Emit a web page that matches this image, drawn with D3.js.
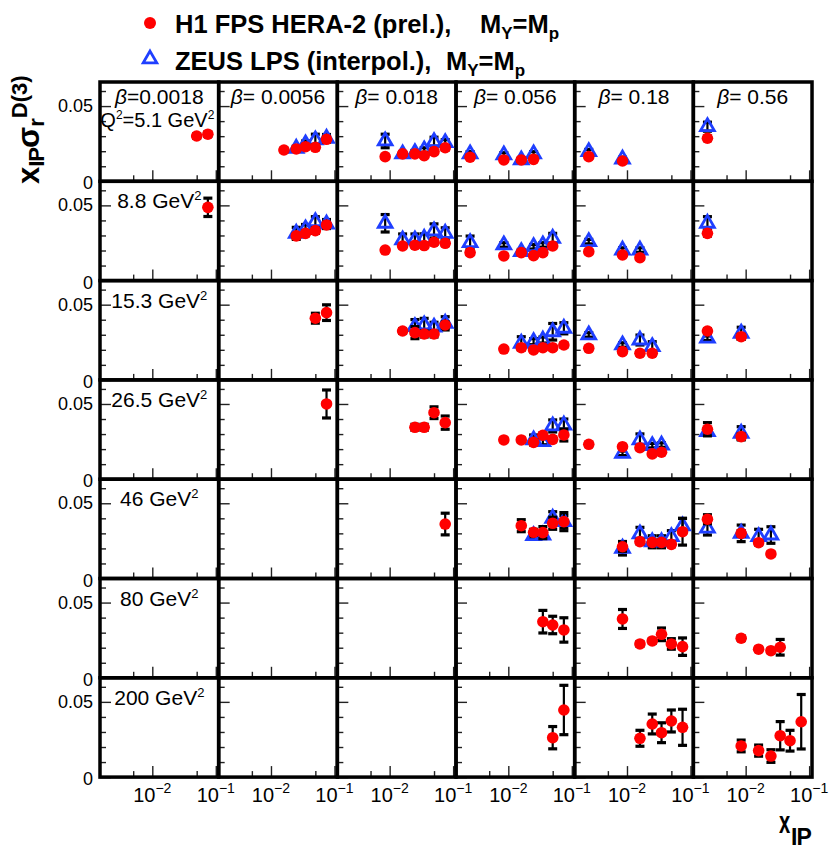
<!DOCTYPE html>
<html>
<head>
<meta charset="utf-8">
<script src="https://cdn.jsdelivr.net/npm/d3@7"></script>
<style>
  body { margin: 0; background: #ffffff; }
  text { font-family: "Liberation Sans", Arial, Helvetica, sans-serif; fill: #000; }
</style>
</head>
<body>
<svg id="chart" width="838" height="850"></svg>
<script>
// ---- bins and axis ticks ----
const betaLabels = ["0.0018", "0.0056", "0.018", "0.056", "0.18", "0.56"];
const q2Labels = ["5.1", "8.8", "15.3", "26.5", "46", "80", "200"];
const xTickMajor = [0.01, 0.1];
const xTickMinor = [0.005, 0.05];
const xTickExp = ["-2", "-1"];
const yTickMajor = [0, 0.05];
const yTickMinor = [0.01, 0.02, 0.03, 0.04, 0.06];
const yTickText = ["0", "0.05"];

// ---- H1 FPS HERA-2 (prel.): [beta index, x_IP, x_IP*sigma_r^D(3), error] per Q^2 bin ----
const h1Q2_5_1 = [
  [0, 0.05, 0.0301, 0.0015], [0, 0.075, 0.0313, 0.0015],
  [1, 0.016, 0.0208, 0.0012], [1, 0.025, 0.0215, 0.0012], [1, 0.035, 0.0230, 0.0013], [1, 0.05, 0.0226, 0.0015], [1, 0.075, 0.0279, 0.0018],
  [2, 0.0085, 0.0164, 0.001], [2, 0.016, 0.0182, 0.001], [2, 0.025, 0.0182, 0.001], [2, 0.035, 0.0170, 0.001], [2, 0.05, 0.0197, 0.0012], [2, 0.075, 0.0223, 0.0015],
  [3, 0.0025, 0.0160, 0.001], [3, 0.0085, 0.0142, 0.001], [3, 0.016, 0.0142, 0.001], [3, 0.025, 0.0146, 0.001],
  [4, 0.0025, 0.0164, 0.001], [4, 0.0085, 0.0135, 0.001],
  [5, 0.0025, 0.0286, 0.0015]
];
const h1Q2_8_8 = [
  [0, 0.075, 0.0487, 0.0061],
  [1, 0.025, 0.0297, 0.0015], [1, 0.035, 0.0314, 0.0015], [1, 0.05, 0.0332, 0.0018], [1, 0.075, 0.0370, 0.002],
  [2, 0.0085, 0.0203, 0.001], [2, 0.016, 0.0230, 0.0012], [2, 0.025, 0.0235, 0.0012], [2, 0.035, 0.0233, 0.0012], [2, 0.05, 0.0255, 0.0014], [2, 0.075, 0.0248, 0.0015],
  [3, 0.0025, 0.0186, 0.001], [3, 0.0085, 0.0164, 0.001], [3, 0.016, 0.0186, 0.001], [3, 0.025, 0.0166, 0.001], [3, 0.035, 0.0186, 0.001], [3, 0.05, 0.0230, 0.0012],
  [4, 0.0025, 0.0192, 0.001], [4, 0.0085, 0.0170, 0.001], [4, 0.016, 0.0152, 0.001],
  [5, 0.0025, 0.0314, 0.0018]
];
const h1Q2_15_3 = [
  [1, 0.05, 0.0410, 0.0033], [1, 0.075, 0.0447, 0.0052],
  [2, 0.016, 0.0325, 0.0015], [2, 0.025, 0.0314, 0.0040], [2, 0.035, 0.0305, 0.002], [2, 0.05, 0.0305, 0.002], [2, 0.075, 0.0365, 0.002],
  [3, 0.0085, 0.0205, 0.001], [3, 0.016, 0.0214, 0.0012], [3, 0.025, 0.0199, 0.0012], [3, 0.035, 0.0214, 0.0012], [3, 0.05, 0.0214, 0.0012], [3, 0.075, 0.0232, 0.0014],
  [4, 0.0025, 0.0210, 0.0012], [4, 0.0085, 0.0188, 0.0012], [4, 0.016, 0.0177, 0.0012], [4, 0.025, 0.0177, 0.0012],
  [5, 0.0025, 0.0325, 0.0015], [5, 0.0085, 0.0287, 0.0015]
];
const h1Q2_26_5 = [
  [1, 0.075, 0.0500, 0.0093],
  [2, 0.025, 0.0345, 0.002], [2, 0.035, 0.0345, 0.002], [2, 0.05, 0.0442, 0.0039], [2, 0.075, 0.0376, 0.0044],
  [3, 0.0085, 0.0261, 0.0012], [3, 0.016, 0.0261, 0.0012], [3, 0.025, 0.0245, 0.0015], [3, 0.035, 0.0292, 0.0015], [3, 0.05, 0.0265, 0.0015], [3, 0.075, 0.0294, 0.0040],
  [4, 0.0025, 0.0232, 0.0012], [4, 0.0085, 0.0216, 0.0012], [4, 0.016, 0.0209, 0.0012], [4, 0.025, 0.0168, 0.0012], [4, 0.035, 0.0179, 0.0012],
  [5, 0.0025, 0.0332, 0.0044], [5, 0.0085, 0.0283, 0.0018]
];
const h1Q2_46 = [
  [2, 0.075, 0.0362, 0.0072],
  [3, 0.016, 0.0351, 0.0040], [3, 0.025, 0.0307, 0.0020], [3, 0.035, 0.0305, 0.0040], [3, 0.05, 0.0367, 0.0040], [3, 0.075, 0.0378, 0.0060],
  [4, 0.0085, 0.0211, 0.0030], [4, 0.016, 0.0245, 0.0015], [4, 0.025, 0.0240, 0.0015], [4, 0.035, 0.0240, 0.0015], [4, 0.05, 0.0227, 0.0015], [4, 0.075, 0.0311, 0.0089],
  [5, 0.0025, 0.0394, 0.003], [5, 0.0085, 0.0300, 0.0018], [5, 0.016, 0.0238, 0.0015], [5, 0.025, 0.0163, 0.0012]
];
const h1Q2_80 = [
  [3, 0.035, 0.0373, 0.0075], [3, 0.05, 0.0351, 0.0058], [3, 0.075, 0.0318, 0.0081],
  [4, 0.0085, 0.0391, 0.0063], [4, 0.016, 0.0225, 0.0015], [4, 0.025, 0.0245, 0.0015], [4, 0.035, 0.0289, 0.0042], [4, 0.05, 0.0225, 0.0035], [4, 0.075, 0.0207, 0.0058],
  [5, 0.0085, 0.0263, 0.0015], [5, 0.016, 0.0190, 0.0012], [5, 0.025, 0.0180, 0.0012], [5, 0.035, 0.0203, 0.0052]
];
const h1Q2_200 = [
  [3, 0.05, 0.0262, 0.0074], [3, 0.075, 0.0446, 0.0164],
  [4, 0.016, 0.0258, 0.0053], [4, 0.025, 0.0353, 0.0066], [4, 0.035, 0.0295, 0.0066], [4, 0.05, 0.0373, 0.0073], [4, 0.075, 0.0331, 0.0120],
  [5, 0.0085, 0.0207, 0.0039], [5, 0.016, 0.0176, 0.0037], [5, 0.025, 0.0140, 0.0042], [5, 0.035, 0.0275, 0.0094], [5, 0.05, 0.0242, 0.0069], [5, 0.075, 0.0368, 0.0181]
];

// ---- ZEUS LPS (interpol.): [beta index, x_IP, x_IP*sigma_r^D(3), error] per Q^2 bin ----
const zeusQ2_5_1 = [
  [1, 0.025, 0.0219, 0.0015], [1, 0.035, 0.0248, 0.002], [1, 0.05, 0.0275, 0.0038], [1, 0.075, 0.0286, 0.0025],
  [2, 0.0085, 0.0268, 0.0045], [2, 0.016, 0.0182, 0.0015], [2, 0.025, 0.0190, 0.0015], [2, 0.035, 0.0208, 0.0015], [2, 0.05, 0.0263, 0.003], [2, 0.075, 0.0257, 0.002],
  [3, 0.0025, 0.0182, 0.0015], [3, 0.0085, 0.0175, 0.0015], [3, 0.016, 0.0142, 0.0012], [3, 0.025, 0.0182, 0.0015],
  [4, 0.0025, 0.0197, 0.0015], [4, 0.0085, 0.0148, 0.0012],
  [5, 0.0025, 0.0363, 0.003]
];
const zeusQ2_8_8 = [
  [1, 0.025, 0.0314, 0.004], [1, 0.035, 0.0343, 0.003], [1, 0.05, 0.0392, 0.0033], [1, 0.075, 0.0376, 0.003],
  [2, 0.0085, 0.0381, 0.0058], [2, 0.016, 0.0270, 0.004], [2, 0.025, 0.0270, 0.004], [2, 0.035, 0.0281, 0.003], [2, 0.05, 0.0330, 0.0047], [2, 0.075, 0.0314, 0.0037],
  [3, 0.0025, 0.0252, 0.0044], [3, 0.0085, 0.0237, 0.0015], [3, 0.016, 0.0192, 0.0015], [3, 0.025, 0.0225, 0.0015], [3, 0.035, 0.0237, 0.0015], [3, 0.05, 0.0281, 0.0033],
  [4, 0.0025, 0.0259, 0.0015], [4, 0.0085, 0.0203, 0.0015], [4, 0.016, 0.0203, 0.0015],
  [5, 0.0025, 0.0381, 0.0044]
];
const zeusQ2_15_3 = [
  [2, 0.025, 0.0354, 0.0047], [2, 0.035, 0.0365, 0.0044], [2, 0.05, 0.0350, 0.0033], [2, 0.075, 0.0376, 0.0044],
  [3, 0.016, 0.0243, 0.0044], [3, 0.025, 0.0254, 0.002], [3, 0.035, 0.0265, 0.002], [3, 0.05, 0.0320, 0.0055], [3, 0.075, 0.0343, 0.0037],
  [4, 0.0025, 0.0299, 0.0015], [4, 0.0085, 0.0232, 0.0015], [4, 0.016, 0.0265, 0.0033], [4, 0.025, 0.0221, 0.0033],
  [5, 0.0025, 0.0277, 0.0015], [5, 0.0085, 0.0310, 0.004]
];
const zeusQ2_26_5 = [
  [3, 0.025, 0.0261, 0.0033], [3, 0.035, 0.0249, 0.002], [3, 0.05, 0.0354, 0.004], [3, 0.075, 0.0360, 0.004],
  [4, 0.0085, 0.0172, 0.0015], [4, 0.016, 0.0261, 0.004], [4, 0.025, 0.0223, 0.0015], [4, 0.035, 0.0227, 0.0015],
  [5, 0.0025, 0.0316, 0.0015], [5, 0.0085, 0.0305, 0.0044]
];
const zeusQ2_46 = [
  [3, 0.025, 0.0285, 0.002], [3, 0.035, 0.0289, 0.002], [3, 0.05, 0.0400, 0.0044], [3, 0.075, 0.0378, 0.004],
  [4, 0.0085, 0.0201, 0.0045], [4, 0.016, 0.0296, 0.0044], [4, 0.025, 0.0244, 0.004], [4, 0.035, 0.0244, 0.004], [4, 0.05, 0.0278, 0.004], [4, 0.075, 0.0349, 0.005],
  [5, 0.0025, 0.0334, 0.0045], [5, 0.0085, 0.0300, 0.0055], [5, 0.016, 0.0278, 0.0049], [5, 0.025, 0.0289, 0.0055]
];
const zeusQ2_80 = [];
const zeusQ2_200 = [];

const h1Rows = [h1Q2_5_1, h1Q2_8_8, h1Q2_15_3, h1Q2_26_5, h1Q2_46, h1Q2_80, h1Q2_200];
const zeusRows = [zeusQ2_5_1, zeusQ2_8_8, zeusQ2_15_3, zeusQ2_26_5, zeusQ2_46, zeusQ2_80, zeusQ2_200];

// ---- layout ----
const svg = d3.select("#chart");
const gridLeft = 100, gridTop = 82, cellW = 118.67, cellH = 99.3;
const xDomain = [0.0015, 0.111], yDomain = [0, 0.066];
const red = "#ff0000", blue = "#1f3fff";

const xScaleFor = c => {
  const L = gridLeft + c * cellW;
  return d3.scaleLog().domain(xDomain).range([L, L + cellW]);
};
const yScaleFor = r => {
  const T = gridTop + r * cellH;
  return d3.scaleLinear().domain(yDomain).range([T + cellH, T]);
};

const tickLayer = svg.append("g");
const frameLayer = svg.append("g");
const dataLayer = svg.append("g");
const textLayer = svg.append("g");

function styleAxis(sel) {
  sel.select(".domain").remove();
  sel.selectAll(".tick line").attr("stroke", "#222").attr("stroke-width", 1.4);
  sel.selectAll(".tick text").remove();
}

for (let r = 0; r < q2Labels.length; r++) {
  const y = yScaleFor(r);
  for (let c = 0; c < betaLabels.length; c++) {
    const x = xScaleFor(c);
    const L = x.range()[0], B = y.range()[0];
    // ticks along the bottom edge, pointing inward
    tickLayer.append("g").attr("transform", `translate(0,${B})`)
      .call(d3.axisBottom(x).tickValues(xTickMajor).tickSize(-11)).call(styleAxis);
    tickLayer.append("g").attr("transform", `translate(0,${B})`)
      .call(d3.axisBottom(x).tickValues(xTickMinor).tickSize(-6)).call(styleAxis);
    // ticks along the left edge, pointing inward
    tickLayer.append("g").attr("transform", `translate(${L},0)`)
      .call(d3.axisLeft(y).tickValues(yTickMajor).tickSize(-11)).call(styleAxis);
    tickLayer.append("g").attr("transform", `translate(${L},0)`)
      .call(d3.axisLeft(y).tickValues(yTickMinor).tickSize(-6)).call(styleAxis);

    frameLayer.append("rect")
      .attr("x", L).attr("y", y.range()[1])
      .attr("width", cellW).attr("height", cellH)
      .attr("fill", "none").attr("stroke", "#000").attr("stroke-width", 3.5);
  }

  // y tick labels for this row
  yTickMajor.forEach((v, i) => {
    textLayer.append("text")
      .attr("x", 93).attr("y", y(v) + (v === 0 ? 2 : 0))
      .attr("text-anchor", "end").attr("dominant-baseline", "central")
      .attr("font-size", 18).text(yTickText[i]);
  });
}

// x tick labels under the bottom row
for (let c = 0; c < betaLabels.length; c++) {
  const x = xScaleFor(c);
  xTickMajor.forEach((v, i) => {
    const t = textLayer.append("text")
      .attr("x", x(v)).attr("y", 802)
      .attr("text-anchor", "middle").attr("font-size", 20);
    t.append("tspan").text("10");
    t.append("tspan").attr("font-size", 14).attr("dy", -9).text(xTickExp[i].replace("-", "\u2212"));
  });
}

// data: error bars and markers
const triangle = d3.symbol().type(d3.symbolTriangle).size(82);

function drawErrors(rows, r) {
  const y = yScaleFor(r);
  rows[r].forEach(([c, xv, v, e]) => {
    const x = xScaleFor(c);
    const px = x(xv), y1 = y(v - e), y2 = y(v + e);
    dataLayer.append("line").attr("x1", px).attr("x2", px).attr("y1", y1).attr("y2", y2)
      .attr("stroke", "#000").attr("stroke-width", 2.2);
    [y1, y2].forEach(yy => dataLayer.append("line")
      .attr("x1", px - 4.5).attr("x2", px + 4.5).attr("y1", yy).attr("y2", yy)
      .attr("stroke", "#000").attr("stroke-width", 3.2));
  });
}

for (let r = 0; r < q2Labels.length; r++) {
  const y = yScaleFor(r);
  drawErrors(zeusRows, r);
  zeusRows[r].forEach(([c, xv, v]) => {
    const x = xScaleFor(c);
    dataLayer.append("path").attr("d", triangle)
      .attr("transform", `translate(${x(xv)},${y(v)})`)
      .attr("fill", "none").attr("stroke", blue).attr("stroke-width", 2.8);
  });
  drawErrors(h1Rows, r);
  h1Rows[r].forEach(([c, xv, v]) => {
    const x = xScaleFor(c);
    dataLayer.append("circle").attr("cx", x(xv)).attr("cy", y(v)).attr("r", 5.8).attr("fill", red);
  });
}

// beta labels across the top row
betaLabels.forEach((b, c) => {
  const x = xScaleFor(c);
  const cx = (x.range()[0] + x.range()[1]) / 2;
  const t = textLayer.append("text").attr("x", cx).attr("y", gridTop + 22)
    .attr("text-anchor", "middle").attr("font-size", 21);
  t.append("tspan").attr("font-style", "italic").text("\u03b2");
  t.append("tspan").text(c === 0 ? "=" + b : "= " + b);
});

// Q^2 labels down the first column
q2Labels.forEach((q, r) => {
  const cx = gridLeft + cellW / 2;
  const top = gridTop + r * cellH;
  const t = textLayer.append("text").attr("text-anchor", "middle").attr("font-size", 21);
  if (r === 0) {
    t.attr("x", cx - 2).attr("y", top + 45).attr("font-size", 20);
    t.append("tspan").text("Q");
    t.append("tspan").attr("font-size", 12).attr("dy", -8).text("2");
    t.append("tspan").attr("dy", 8).text("=" + q + " GeV");
    t.append("tspan").attr("font-size", 12).attr("dy", -8).text("2");
  } else {
    t.attr("x", cx).attr("y", top + 27);
    t.append("tspan").text(q + " GeV");
    t.append("tspan").attr("font-size", 13).attr("dy", -8).text("2");
  }
});

// y axis title: x_IP sigma_r^D(3)
const yTitle = textLayer.append("text")
  .attr("transform", "translate(39,184) rotate(-90)")
  .attr("font-weight", "bold").attr("font-size", 31);
yTitle.append("tspan").text("x");
yTitle.append("tspan").attr("font-size", 22).attr("dy", 5).attr("letter-spacing", -1).text("IP");
yTitle.append("tspan").attr("dy", -5).text("\u03c3");
yTitle.append("tspan").attr("font-size", 22).attr("dy", 5).text("r");
yTitle.append("tspan").attr("font-size", 22).attr("dy", -17).text("D(3)");

// x axis title: x_IP
const xTitle = textLayer.append("g").attr("transform", "translate(779,833)");
xTitle.append("text").attr("transform", "scale(0.65,1)")
  .attr("font-weight", "bold").attr("font-size", 31).text("x");
xTitle.append("text").attr("x", 12).attr("y", 12)
  .attr("font-weight", "bold").attr("font-size", 23).attr("letter-spacing", -1).text("IP");

// legend
const legend = textLayer.append("g");
legend.append("circle").attr("cx", 150).attr("cy", 23).attr("r", 6).attr("fill", red);
legend.append("path").attr("d", d3.symbol().type(d3.symbolTriangle).size(80))
  .attr("transform", "translate(150,59)")
  .attr("fill", "none").attr("stroke", blue).attr("stroke-width", 2.8);

const legendRows = [
  { y: 33, label: "H1 FPS HERA-2 (prel.),", mx: 480 },
  { y: 70, label: "ZEUS LPS (interpol.),", mx: 446 }
];
legendRows.forEach(d => {
  legend.append("text").attr("x", 175).attr("y", d.y)
    .attr("font-weight", "bold").attr("font-size", 25.5).text(d.label);
  const m = legend.append("text").attr("x", d.mx).attr("y", d.y)
    .attr("font-weight", "bold").attr("font-size", 25.5);
  m.append("tspan").text("M");
  m.append("tspan").attr("font-size", 17).attr("dy", 6).text("Y");
  m.append("tspan").attr("dy", -6).text("=M");
  m.append("tspan").attr("font-size", 17).attr("dy", 6).text("p");
});
</script>
</body>
</html>
